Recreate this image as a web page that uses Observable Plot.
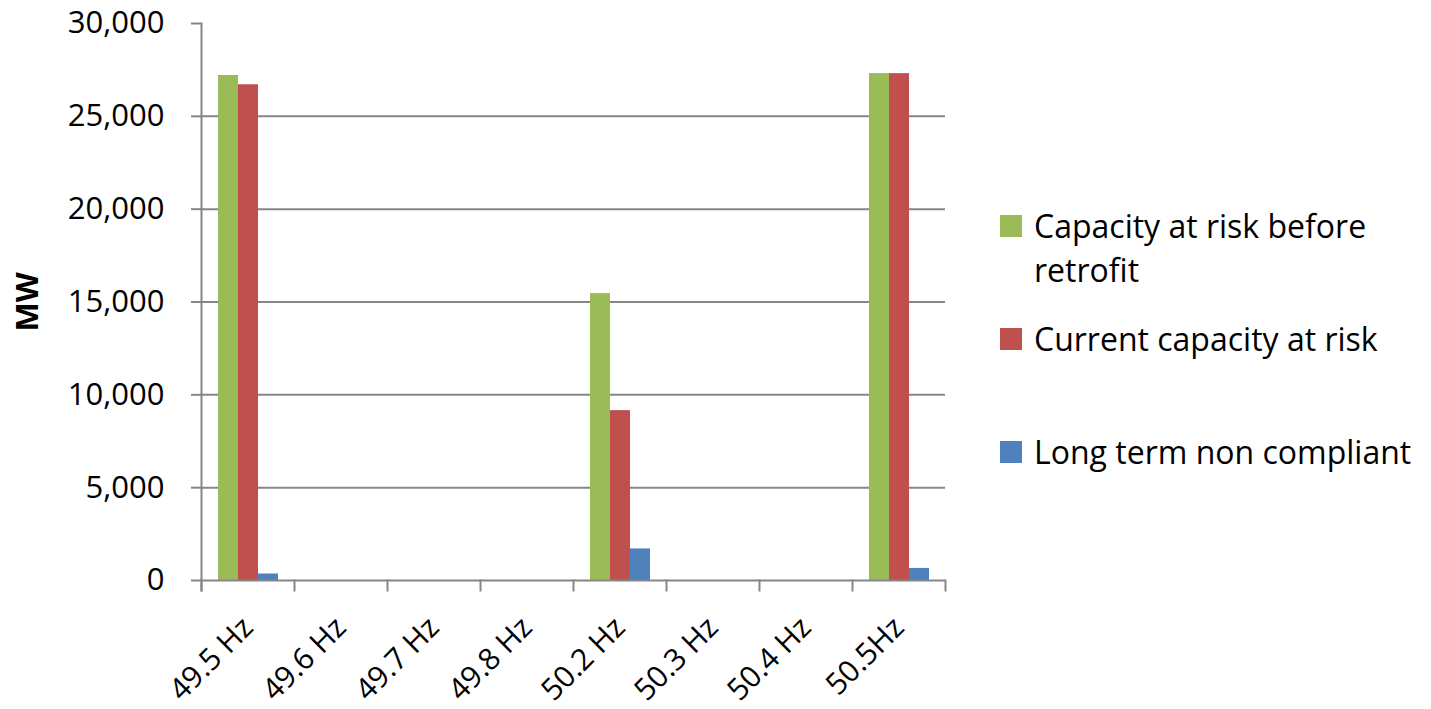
<!DOCTYPE html>
<html>
<head>
<meta charset="utf-8">
<script src="https://cdn.jsdelivr.net/npm/d3@7"></script>
<script src="https://cdn.jsdelivr.net/npm/@observablehq/plot@0.6"></script>
<style>
  html, body { margin: 0; padding: 0; background: #fff; }
  #wrap { position: relative; width: 1431px; height: 709px; font-family: "Open Sans", sans-serif; }
  #chart { position: absolute; left: 0; top: 0; }
  #chart svg [aria-label="y-axis label"] text { font-weight: bold; }
  #legend { position: absolute; left: 1000px; top: 204px; }
  .item { display: flex; align-items: flex-start; height: 113px; }
  .swatch { width: 22px; height: 22px; margin-top: 11px; margin-right: 12px; flex: none; }
  .label { font-size: 32px; line-height: 44px; max-width: 400px; color: #000; }
</style>
</head>
<body>
<div id="wrap">
  <div id="chart"></div>
  <div id="legend"></div>
</div>
<script>
const categories = ["49.5 Hz", "49.6 Hz", "49.7 Hz", "49.8 Hz", "50.2 Hz", "50.3 Hz", "50.4 Hz", "50.5Hz"];
const series = ["Capacity at risk before retrofit", "Current capacity at risk", "Long term non compliant"];
const beforeRetrofit = [27200, 0, 0, 0, 15450, 0, 0, 27300];
const currentAtRisk = [26700, 0, 0, 0, 9150, 0, 0, 27300];
const longTermNonCompliant = [350, 0, 0, 0, 1700, 0, 0, 650];
const seriesColors = ["#9BBB59", "#C0504D", "#4F81BD"];
const yTicks = [0, 5000, 10000, 15000, 20000, 25000, 30000];

const seriesValues = [beforeRetrofit, currentAtRisk, longTermNonCompliant];
const rows = categories.flatMap((c, i) =>
  series.map((s, k) => ({category: c, series: s, value: seriesValues[k][i]}))
);

const gray = "#868686";
const H = 709, MT = 23, MB = 129;
const innerH = H - MT - MB;

const chart = Plot.plot({
  width: 990,
  height: H,
  marginTop: MT,
  marginBottom: MB,
  marginLeft: 200,
  marginRight: 45,
  style: {fontFamily: "Open Sans", fontSize: "30px", color: "#000", background: "transparent", overflow: "visible"},
  fx: {domain: categories, padding: 0, label: null, axis: null},
  x: {domain: series, paddingInner: 0, paddingOuter: 0.79, axis: null},
  y: {domain: [0, 30000], label: null, axis: null},
  color: {domain: series, range: seriesColors},
  marks: [
    Plot.gridY(yTicks.filter(v => v > 0 && v < 30000), {stroke: gray, strokeOpacity: 1, strokeWidth: 2}),
    Plot.barY(rows, {fx: "category", x: "series", y: "value", fill: "series"}),
    Plot.ruleY([0], {stroke: gray, strokeWidth: 2}),
    Plot.frame({anchor: "left", facetAnchor: "left", stroke: gray, strokeWidth: 2, insetBottom: -10}),
    Plot.frame({anchor: "left", stroke: gray, strokeWidth: 2, insetTop: innerH, insetBottom: -10}),
    Plot.frame({anchor: "right", facetAnchor: "right", stroke: gray, strokeWidth: 2, insetTop: innerH, insetBottom: -10}),
    Plot.axisY(yTicks, {
      tickSize: 10, tickPadding: 27, stroke: gray, strokeWidth: 2,
      tickFormat: d3.format(","), fontSize: 31,
      label: "MW", labelAnchor: "center", labelArrow: "none", labelOffset: 186
    }),
    Plot.axisFx({anchor: "bottom", tickSize: 0, tickRotate: -45, tickPadding: 42, label: null, fontSize: 30})
  ]
});
document.getElementById("chart").appendChild(chart);

const legend = document.getElementById("legend");
series.forEach((s, k) => {
  const item = document.createElement("div");
  item.className = "item";
  const sw = document.createElement("div");
  sw.className = "swatch";
  sw.style.background = seriesColors[k];
  const lab = document.createElement("div");
  lab.className = "label";
  lab.textContent = s;
  item.appendChild(sw);
  item.appendChild(lab);
  legend.appendChild(item);
});
</script>
</body>
</html>
